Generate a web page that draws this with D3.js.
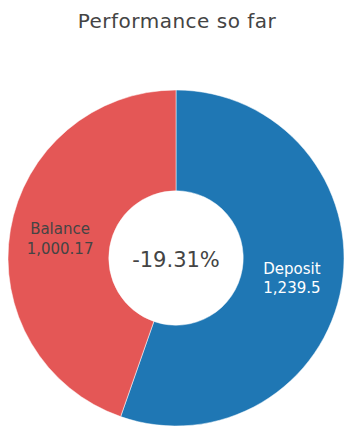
<!DOCTYPE html>
<html>
<head>
<meta charset="utf-8">
<script src="https://cdn.jsdelivr.net/npm/d3@7"></script>
<style>
  body { margin: 0; background: #fff; }
  svg { display: block; font-family: "DejaVu Sans", Verdana, sans-serif; }
</style>
</head>
<body>
<div id="chart"></div>
<script>
"use strict";

const labels = ["Deposit", "Balance"];
const values = [1239.5, 1000.17];
const colors = ["#1f77b4", "#e45756"];
const textColors = ["#ffffff", "#444444"];
const centerLabel = "-19.31%";
const title = "Performance so far";

const w = 352;
const h = 436;
const cx = 176;
const cy = 258;
const outer = 168;
const inner = outer * 0.4;

const svg = d3
  .select("#chart")
  .append("svg")
  .attr("width", w)
  .attr("height", h);

svg
  .append("text")
  .attr("x", w / 2 + 1)
  .attr("y", 28)
  .attr("text-anchor", "middle")
  .attr("fill", "#444")
  .style("font-size", "20px")
  .style("letter-spacing", "0.5px")
  .text(title);

const data = labels.map((l, i) => ({ label: l, value: values[i], i: i }));

const pie = d3
  .pie()
  .value((d) => d.value)
  .sort(null);

const arc = d3.arc().innerRadius(inner).outerRadius(outer);

const g = svg.append("g").attr("transform", `translate(${cx}, ${cy})`);

const slices = g.selectAll("g.slice").data(pie(data)).enter().append("g").attr("class", "slice");

slices
  .append("path")
  .attr("d", arc)
  .attr("fill", (d) => colors[d.data.i])
  .attr("stroke", "#fff")
  .attr("stroke-width", 0.5);

const fmt = d3.format(",");

slices.each(function (d) {
  const [x, y] = arc.centroid(d);
  const t = d3
    .select(this)
    .append("text")
    .attr("text-anchor", "middle")
    .attr("fill", textColors[d.data.i])
    .style("font-size", "15px");
  t.append("tspan").attr("x", x).attr("y", y - 4).text(d.data.label);
  t.append("tspan").attr("x", x).attr("y", y + 15.5).text(fmt(d.data.value));
});

g.append("text")
  .attr("x", 0)
  .attr("y", 9)
  .attr("text-anchor", "middle")
  .attr("fill", "#444")
  .style("font-size", "21px")
  .text(centerLabel);
</script>
</body>
</html>
